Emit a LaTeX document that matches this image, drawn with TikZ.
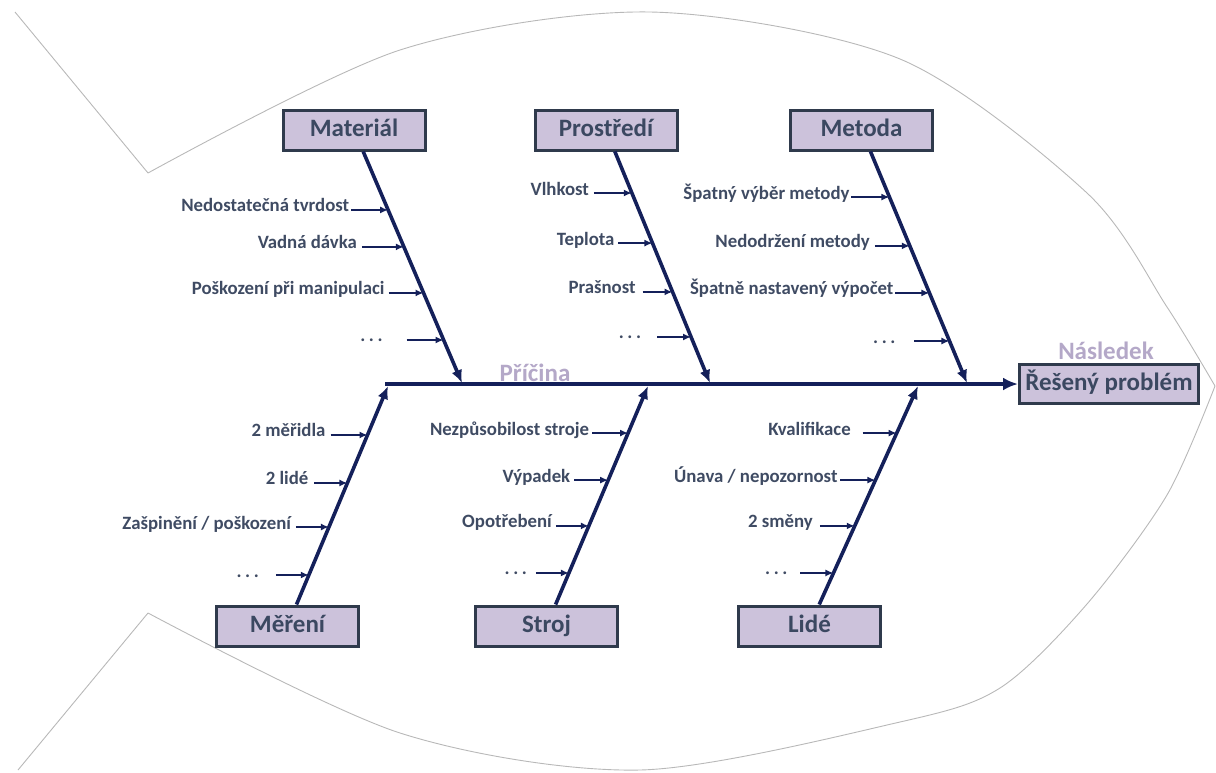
\documentclass[tikz,border=0pt]{standalone}
\usepackage{fontspec}
\setmainfont{Carlito}
\usetikzlibrary{arrows.meta,calc}

\definecolor{navy}{HTML}{14205A}
\definecolor{boxfill}{HTML}{CCC2DB}
\definecolor{boxline}{HTML}{2F3A4C}
\definecolor{boxtext}{HTML}{3B4861}
\definecolor{causetext}{HTML}{3F4B63}
\definecolor{hinttext}{HTML}{B4A8C8}
\definecolor{fishline}{HTML}{B8B8B8}

\newcommand{\moredots}{.\hspace{1.8pt}.\hspace{1.8pt}.}

\tikzset{
    catbox/.style={draw=boxline, line width=1.5pt, fill=boxfill, text=boxtext,
        font=\fontsize{12.5}{15}\selectfont\bfseries,
        minimum width=71pt, minimum height=20pt, inner sep=0pt,
        text height=9pt, text depth=2.5pt},
    effect/.style={catbox, minimum width=89.5pt, minimum height=19.5pt},
    hint/.style={text=hinttext, font=\fontsize{12.5}{15}\selectfont\bfseries},
    cause/.style={text=causetext, font=\fontsize{9.4}{11}\selectfont\bfseries,
        inner sep=1pt, anchor=east, text height=7pt, text depth=2pt},
    spine/.style={navy, line width=2pt, -{Latex[length=7.5pt,width=6.5pt]}},
    bone/.style={navy, line width=1.8pt, -{Latex[length=6.5pt,width=5.5pt]}},
    twig/.style={navy, line width=0.8pt, -{Latex[length=4pt,width=3.5pt]}},
    fish/.style={fishline, line width=0.45pt}
}

\begin{document}
\begin{tikzpicture}[x=0.5pt,y=-0.5pt]
    \useasboundingbox (0,0) rectangle (1216,772);

    % fish outline
    \draw[fish] (15,12) -- (148,173);
    \draw[fish] (18,770) -- (148,613);
    \draw[fish] plot[smooth] coordinates {(148,173) (400,50) (650,12) (900,59) (1087,193) (1167,307) (1215,386)};
    \draw[fish] plot[smooth] coordinates {(148,613) (400,733) (640,770) (900,722) (1000,688) (1087,604) (1167,495) (1215,386)};

    % categories
    \node[catbox] (mat) at (354,130) {Materiál};
    \node[catbox] (pro) at (606,130) {Prostředí};
    \node[catbox] (met) at (861.5,130) {Metoda};
    \node[catbox] (mer) at (287.5,626) {Měření};
    \node[catbox] (str) at (546.5,626) {Stroj};
    \node[catbox] (lid) at (809.5,626) {Lidé};
    \node[effect] (res) at (1109,384) {Řešený problém};

    \node[hint] (pricina) at (535,373) {Příčina};
    \node[hint] (nasledek) at (1106,351) {Následek};

    % main spine
    \coordinate (tail) at (385,384);
    \draw[spine] (tail) -- (res);

    \coordinate (matend) at (462,383);
    \coordinate (proend) at (710,383);
    \coordinate (metend) at (967,383);
    \coordinate (merend) at (388,386);
    \coordinate (strend) at (648,386);
    \coordinate (lidend) at (918,386);

    \foreach \c in {mat,pro,met,mer,str,lid} {
        \draw[bone] (\c) -- (\c end);
    }

    % causes: position on bone / arrow length / gap / text
    \foreach \t/\l/\g/\txt [count=\i] in {.316/37/0/Nedostatečná tvrdost, .462/42/1.5/Vadná dávka,
            .644/35/1/Poškození při manipulaci, .830/37/11/\moredots} {
        \coordinate (matp\i) at ($(mat)!\t!(matend)$);
        \node[cause, outer xsep=\g pt] (matc\i) at ($(matp\i)+(-\l,-3)$) {\txt};
        \draw[twig] (matc\i.east |- matp\i) -- (matp\i);
    }
    \foreach \t/\l/\g/\txt [count=\i] in {.249/38/1.5/Vlhkost, .447/34/1/Teplota,
            .640/30/2.5/Prašnost, .818/34/7/\moredots} {
        \coordinate (prop\i) at ($(pro)!\t!(proend)$);
        \node[cause, outer xsep=\g pt] (proc\i) at ($(prop\i)+(-\l,-3)$) {\txt};
        \draw[twig] (proc\i.east |- prop\i) -- (prop\i);
    }
    \foreach \t/\l/\g/\txt [count=\i] in {.265/38/0/Špatný výběr metody, .458/35/1.5/Nedodržení metody,
            .644/34/0/Špatně nastavený výpočet, .834/35/8.5/\moredots} {
        \coordinate (metp\i) at ($(met)!\t!(metend)$);
        \node[cause, outer xsep=\g pt] (metc\i) at ($(metp\i)+(-\l,-3)$) {\txt};
        \draw[twig] (metc\i.east |- metp\i) -- (metp\i);
    }
    \foreach \t/\l/\g/\txt [count=\i] in {.796/37/1.5/2 měřidla, .596/33/2/2 lidé,
            .4125/33/1.5/{Zašpinění / poškození}, .2125/33/7.5/\moredots} {
        \coordinate (merp\i) at ($(mer)!\t!(merend)$);
        \node[cause, outer xsep=\g pt] (merc\i) at ($(merp\i)+(-\l,-3)$) {\txt};
        \draw[twig] (merc\i.east |- merp\i) -- (merp\i);
    }
    \foreach \t/\l/\g/\txt [count=\i] in {.804/36/0.5/Nezpůsobilost stroje, .608/34/1/Výpadek,
            .417/33/1/Opotřebení, .221/33/3.5/\moredots} {
        \coordinate (strp\i) at ($(str)!\t!(strend)$);
        \node[cause, outer xsep=\g pt] (strc\i) at ($(strp\i)+(-\l,-3)$) {\txt};
        \draw[twig] (strc\i.east |- strp\i) -- (strp\i);
    }
    \foreach \t/\l/\g/\txt [count=\i] in {.804/34/5/Kvalifikace, .608/35/0.5/{Únava / nepozornost},
            .417/35/2.5/2 směny, .221/33/5.5/\moredots} {
        \coordinate (lidp\i) at ($(lid)!\t!(lidend)$);
        \node[cause, outer xsep=\g pt] (lidc\i) at ($(lidp\i)+(-\l,-3)$) {\txt};
        \draw[twig] (lidc\i.east |- lidp\i) -- (lidp\i);
    }
\end{tikzpicture}
\end{document}
